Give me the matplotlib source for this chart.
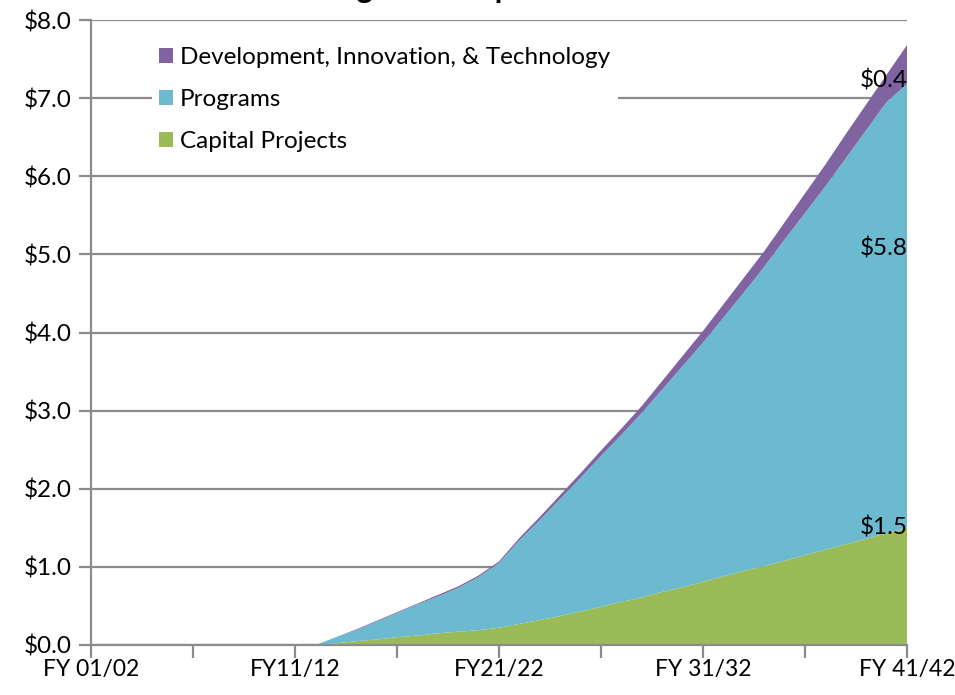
import matplotlib.pyplot as plt
import numpy as np
from matplotlib.patches import Patch

# fiscal years FY 01/02 .. FY 41/42, one value per year ($ billions, cumulative)
years = ["FY %02d/%02d" % (y % 100, (y + 1) % 100) for y in range(2001, 2042)]
tick_labels = ["FY 01/02", "FY11/12", "FY21/22", "FY 31/32", "FY 41/42"]

capital = [0.0] * 11 + [
    0.00, 0.02, 0.05, 0.07, 0.10, 0.12, 0.15, 0.17, 0.19, 0.22,
    0.27, 0.32, 0.37, 0.43, 0.49, 0.55, 0.61, 0.68, 0.74, 0.81,
    0.88, 0.95, 1.01, 1.08, 1.15, 1.22, 1.29, 1.36, 1.43, 1.50,
]
total = [0.0] * 11 + [
    0.00, 0.10, 0.20, 0.31, 0.42, 0.53, 0.64, 0.75, 0.89, 1.07,
    1.37, 1.64, 1.92, 2.20, 2.49, 2.77, 3.06, 3.38, 3.70, 4.02,
    4.36, 4.70, 5.04, 5.41, 5.78, 6.15, 6.54, 6.92, 7.30, 7.68,
]
dit = [0.0] * 11 + [
    0.00, 0.00, 0.01, 0.01, 0.01, 0.01, 0.02, 0.02, 0.02, 0.02,
    0.03, 0.04, 0.05, 0.06, 0.07, 0.08, 0.09, 0.11, 0.13, 0.15,
    0.17, 0.19, 0.20, 0.22, 0.25, 0.28, 0.31, 0.33, 0.35, 0.50,
]
programs = list(np.array(total) - np.array(capital) - np.array(dit))

series_names = ["Capital Projects", "Programs", "Development, Innovation, & Technology"]
colors = ["#9BBB59", "#6BBAD0", "#8064A2"]
end_labels = ["$1.5", "$5.8", "$0.4"]
end_label_y = [1.51, 5.08, 7.23]

plt.rcParams["font.family"] = ["Lato", "DejaVu Sans"]
FS = 17.5

fig = plt.figure(figsize=(9.55, 6.95), dpi=100)
ax = fig.add_axes([91 / 955, 1 - 645 / 695, 816 / 955, 625 / 695])

x = np.arange(len(years))
ax.stackplot(x, capital, programs, dit, colors=colors, linewidth=0)

grid_c = "#8C8C8C"
ax.set_xlim(0, len(years) - 1)
ax.set_ylim(0, 8)
ax.set_yticks(np.arange(0, 9))
ax.set_yticklabels(["$%.1f" % v for v in range(9)], fontsize=FS)
ax.yaxis.grid(True, color=grid_c, linewidth=1.6)
ax.set_axisbelow(True)
ax.set_xticks(np.arange(0, 41, 5))
ax.set_xticklabels([tick_labels[i // 10] if i % 10 == 0 else "" for i in range(0, 41, 5)],
                   fontsize=16.5)
ax.tick_params(axis="both", color=grid_c, width=1.6, length=9)
ax.tick_params(axis="x", pad=1)
ax.tick_params(axis="y", pad=5)
for s in ["top", "right"]:
    ax.spines[s].set_visible(False)
for s in ["left", "bottom"]:
    ax.spines[s].set_color(grid_c)
    ax.spines[s].set_linewidth(1.6)

for lbl, yv in zip(end_labels, end_label_y):
    ax.text(x[-1] + 0.05, yv, lbl, ha="right", va="center", fontsize=FS, color="black")

handles = [Patch(facecolor=c, edgecolor="none") for c in colors[::-1]]
leg = ax.legend(handles, series_names[::-1], loc="upper left",
                bbox_to_anchor=(0.075, 0.968), borderaxespad=0, fontsize=FS,
                frameon=True, fancybox=False, framealpha=1, edgecolor="none",
                handlelength=0.55, handleheight=0.55, handletextpad=0.3,
                labelspacing=0.86, borderpad=0.3)

fig.text(0.5, 1 + 2 / 695, "Long Term Capital Needs", ha="center", va="baseline",
         fontsize=22, fontweight="bold")

fig.savefig("out.png", dpi=100)
